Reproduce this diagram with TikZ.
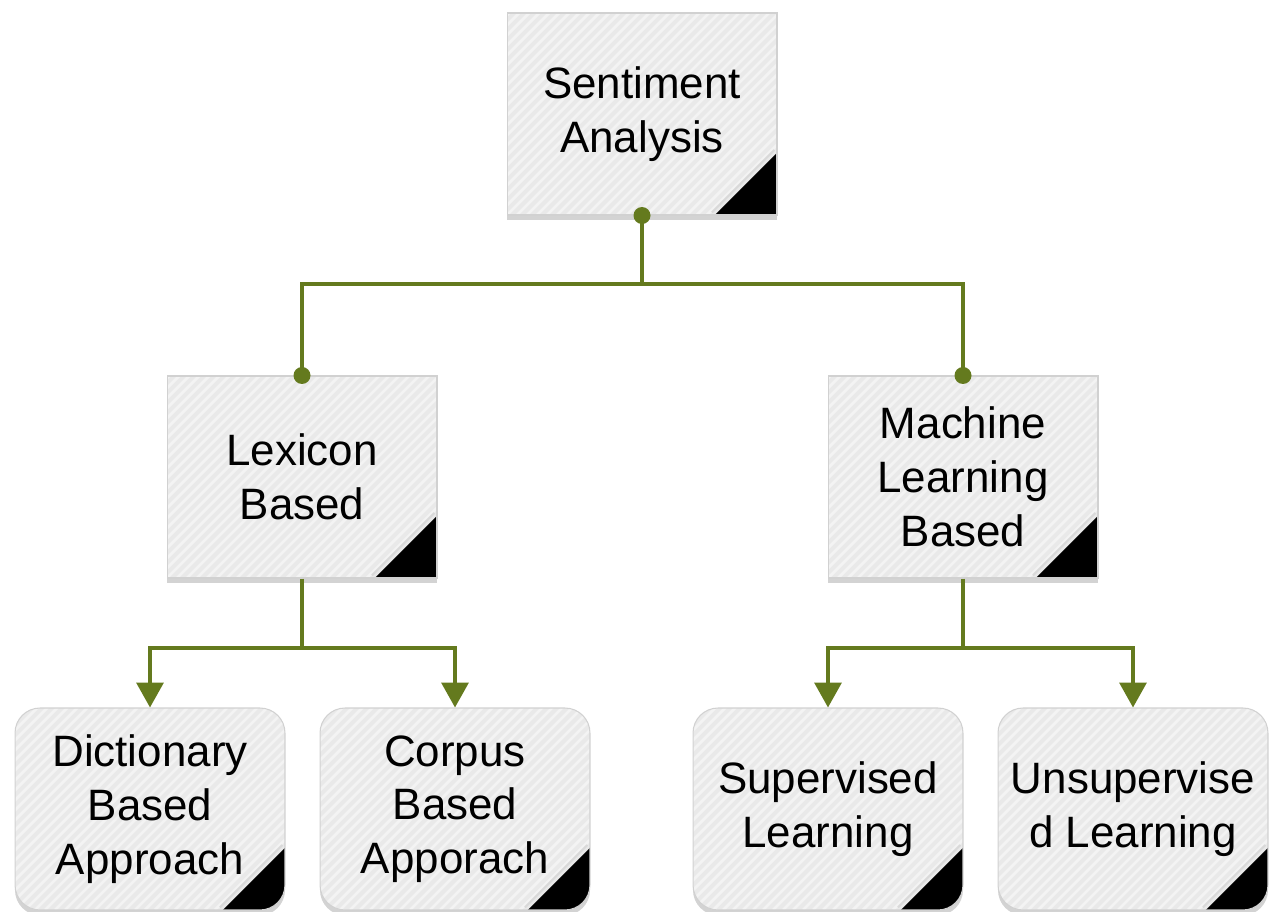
\documentclass[tikz,border=0pt]{standalone}
\usepackage{fontspec}
\setmainfont{Liberation Sans}
\usetikzlibrary{arrows.meta,shadows,calc}
\definecolor{olive}{RGB}{100,122,30}
\definecolor{boxfill}{RGB}{233,233,233}
\definecolor{stripe}{RGB}{243,243,243}
\tikzset{
  x=0.02cm, y=-0.02cm,
  cardbase/.style={
    minimum width=5.4cm, minimum height=4.04cm, inner sep=0pt,
    align=center, font=\fontsize{25}{30.6}\selectfont,
    fill=boxfill, draw=black!18, line width=0.6pt,
    drop shadow={opacity=0.35, shadow xshift=0pt, shadow yshift=-3pt},
    path picture={
      \foreach \i in {-22,...,28}
        \draw[stripe, line width=1.6pt, sharp corners]
          ($(path picture bounding box.south west)+(\i*0.2cm,0)$) -- ++(5cm,5cm);
      \fill[black, sharp corners]
        ($(path picture bounding box.south east)+(0,1.24cm)$)
        -- (path picture bounding box.south east)
        -- ($(path picture bounding box.south east)+(-1.24cm,0)$) -- cycle;
      \draw[white!70!gray, line width=1.2pt, sharp corners]
        ($(path picture bounding box.south east)+(-0.05cm,1.3cm)$)
        -- ($(path picture bounding box.south east)+(-1.3cm,0.05cm)$);
    }},
  squarecard/.style={cardbase},
  roundcard/.style={cardbase, rounded corners=0.5cm},
  conn/.style={draw=olive, line width=2pt},
  arr/.style={conn, -{Triangle[width=0.54cm,length=0.5cm]}},
  knob/.style={circle, fill=olive, inner sep=0pt, minimum size=0.34cm}
}
\begin{document}
\begin{tikzpicture}
\useasboundingbox (0,0) rectangle (1275,912);

% top level
\node[squarecard] (sa) at (642,114) {Sentiment\\Analysis};

% second level
\node[squarecard] (lb) at (302,477) {Lexicon\\Based};
\node[squarecard] (ml) at (963,477) {Machine\\Learning\\Based};

% leaves
\node[roundcard] (dict) at (150,809) {Dictionary\\Based\\Approach};
\node[roundcard] (corp) at (455,809) {Corpus\\Based\\Apporach};
\node[roundcard] (sup)  at (828,809) {Supervised\\Learning};
\node[roundcard] (uns)  at (1133,809) {Unsupervise\\d Learning};

% connectors from the root
\coordinate (j0) at (642,284);
\draw[conn] (sa.south) -- (j0) -| (lb.north);
\draw[conn] (j0) -| (ml.north);
\node[knob] at (sa.south) {};
\node[knob] at (lb.north) {};
\node[knob] at (ml.north) {};

% lexicon branch
\coordinate (j1) at (302,648);
\draw[conn] (lb.south) -- (j1);
\draw[arr] (j1) -| (dict.north);
\draw[arr] (j1) -| (corp.north);

% machine learning branch
\coordinate (j2) at (963,648);
\draw[conn] (ml.south) -- (j2);
\draw[arr] (j2) -| (sup.north);
\draw[arr] (j2) -| (uns.north);
\end{tikzpicture}
\end{document}
